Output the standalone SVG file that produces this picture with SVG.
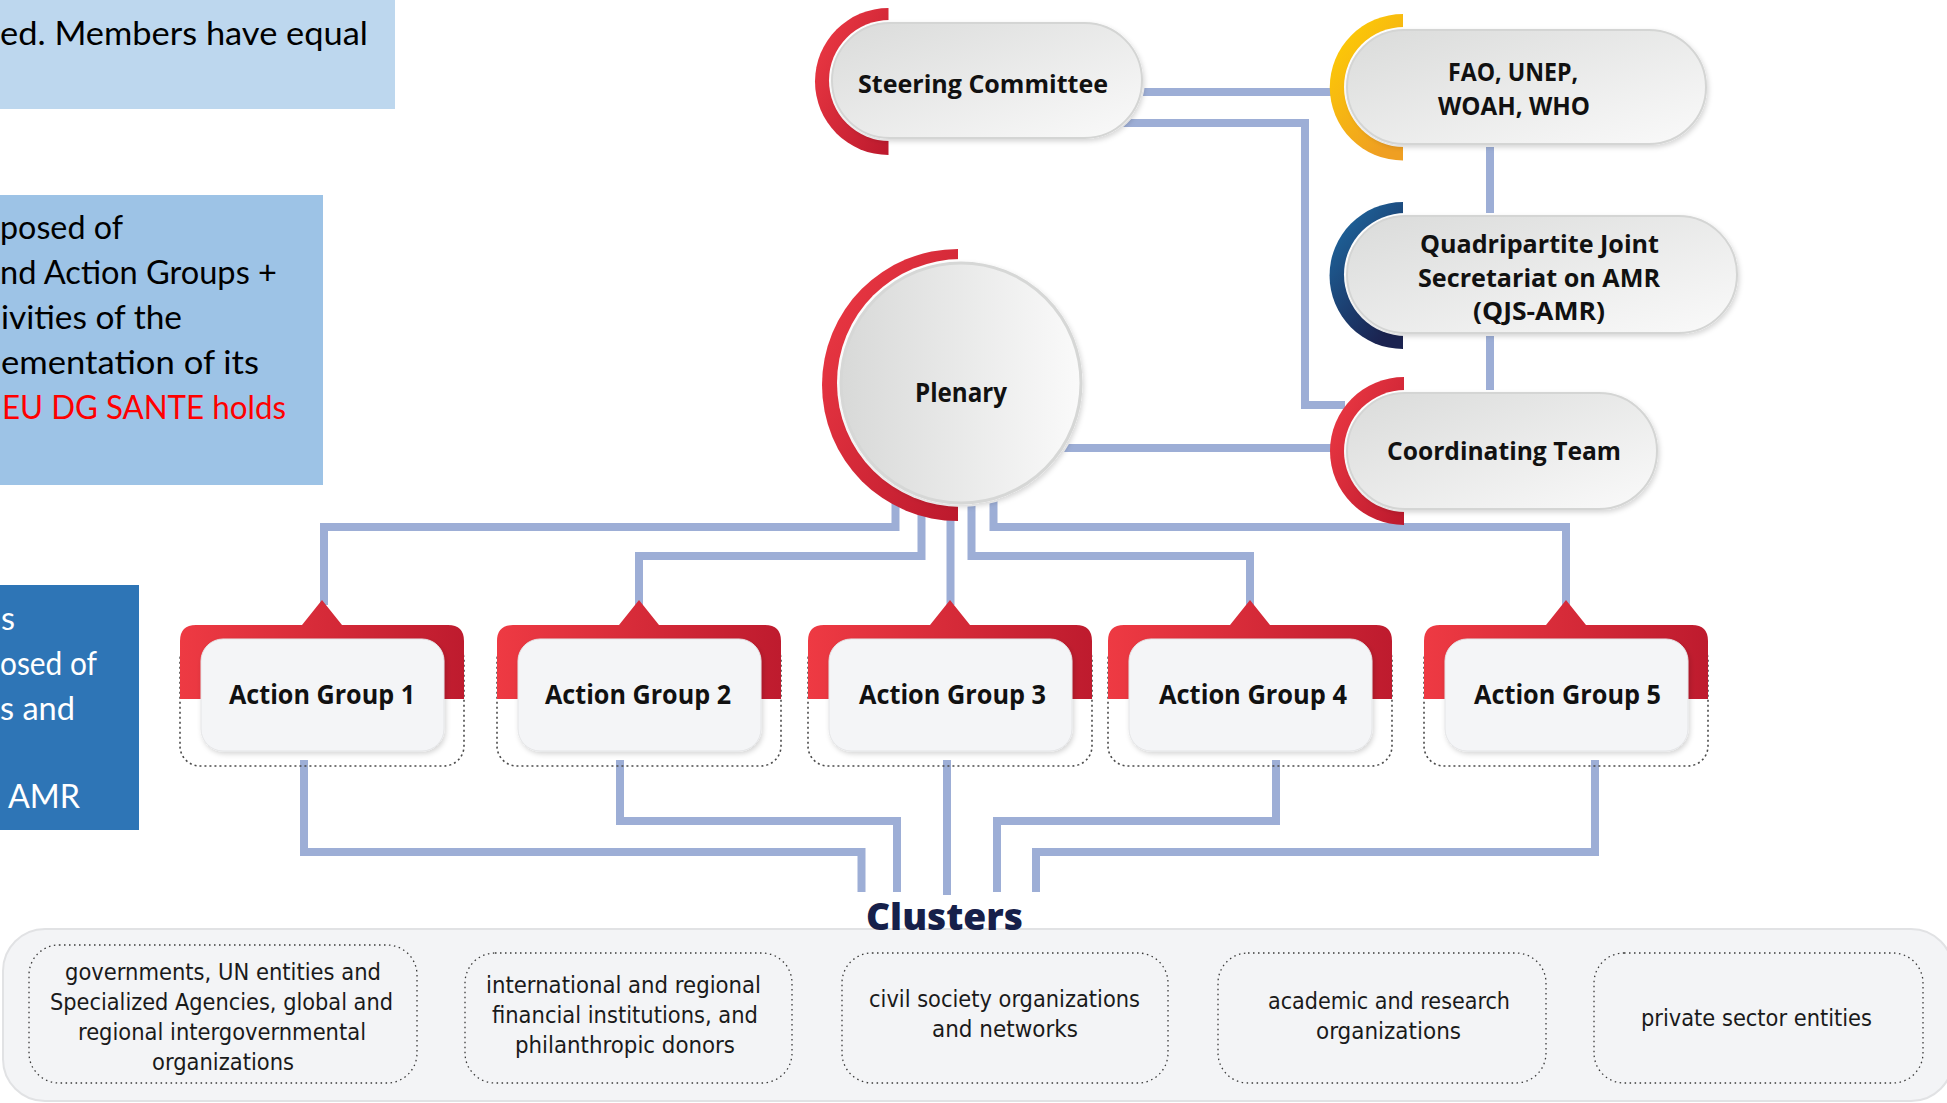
<svg xmlns="http://www.w3.org/2000/svg" width="1947" height="1103" viewBox="0 0 1947 1103">
  <style>
    .note { font-family: Lato, "Open Sans", "Liberation Sans", sans-serif; font-size: 33px; }
    .conn { fill: none; stroke: #9DAED6; stroke-width: 8; stroke-linejoin: miter; }
    .halo { fill: #FFFFFF; }
    .pill { fill: url(#gPill); stroke: #D4D5D4; stroke-width: 2; filter: url(#sh); }
    .lbl { font-family: "Open Sans", "Noto Sans", "Liberation Sans", sans-serif; font-weight: 700; font-size: 25px; fill: #111111; }
    .aglbl { font-family: "Open Sans", "Noto Sans", "Liberation Sans", sans-serif; font-weight: 700; font-size: 26px; fill: #111111; }
    .agred { fill: url(#gAgRed); }
    .agdot { fill: none; stroke: #4A4A4A; stroke-width: 1.6; stroke-dasharray: 2 3; }
    .aginner { fill: #F4F5F7; stroke: #E4E5E7; stroke-width: 1; filter: url(#sh); }
    .cldot { fill: none; stroke: #3A3A3A; stroke-width: 1.3; stroke-dasharray: 1.5 3.5; }
    .cltxt { font-family: "Liberation Sans Narrow", "DejaVu Sans Condensed", "Liberation Sans", sans-serif; font-size: 23px; fill: #1A1A1A; }
  </style>
  <defs>
    <linearGradient id="gRed" x1="0" y1="0" x2="1" y2="1">
      <stop offset="0" stop-color="#EF3B45"/>
      <stop offset="1" stop-color="#BC192D"/>
    </linearGradient>
    <linearGradient id="gYellow" x1="0" y1="0" x2="0.6" y2="1">
      <stop offset="0" stop-color="#FFD200"/>
      <stop offset="1" stop-color="#EF9F22"/>
    </linearGradient>
    <linearGradient id="gBlue" x1="0" y1="0" x2="0.6" y2="1">
      <stop offset="0" stop-color="#1E6FA8"/>
      <stop offset="1" stop-color="#1B2350"/>
    </linearGradient>
    <linearGradient id="gPill" x1="0" y1="0" x2="1" y2="1">
      <stop offset="0" stop-color="#DADBDA"/>
      <stop offset="1" stop-color="#FAFAFA"/>
    </linearGradient>
    <linearGradient id="gPlen" x1="0" y1="0" x2="1" y2="0">
      <stop offset="0" stop-color="#D8D9D8"/>
      <stop offset="1" stop-color="#FAFAFA"/>
    </linearGradient>
    <linearGradient id="gAgRed" x1="0" y1="0" x2="1" y2="0">
      <stop offset="0" stop-color="#EE3A43"/>
      <stop offset="1" stop-color="#BE1B2E"/>
    </linearGradient>
    <filter id="sh" x="-10%" y="-10%" width="125%" height="130%">
      <feDropShadow dx="1.5" dy="2.5" stdDeviation="2.5" flood-color="#000000" flood-opacity="0.16"/>
    </filter>
  </defs>

  <rect width="1947" height="1103" fill="#FFFFFF"/>

  <!-- left slide notes (cut off at the slide edge) -->
  <g id="notes">
    <rect x="0" y="0" width="395" height="109" fill="#BDD7EE"/>
    <text class="note" x="0" y="45" textLength="368" lengthAdjust="spacingAndGlyphs" fill="#000">ed. Members have equal</text>

    <rect x="0" y="195" width="323" height="290" fill="#9DC3E6"/>
    <text class="note" x="0" y="239" textLength="123" lengthAdjust="spacingAndGlyphs" fill="#000">posed of</text>
    <text class="note" x="0" y="284" textLength="277" lengthAdjust="spacingAndGlyphs" fill="#000">nd Action Groups +</text>
    <text class="note" x="1" y="329" textLength="181" lengthAdjust="spacingAndGlyphs" fill="#000">ivities of the</text>
    <text class="note" x="1" y="374" textLength="258" lengthAdjust="spacingAndGlyphs" fill="#000">ementation of its</text>
    <text class="note" x="2" y="419" textLength="284" lengthAdjust="spacingAndGlyphs" fill="#FF0000">EU DG SANTE holds</text>

    <rect x="0" y="585" width="139" height="245" fill="#2E75B6"/>
    <text class="note" x="1" y="630" textLength="14" lengthAdjust="spacingAndGlyphs" fill="#FFF">s</text>
    <text class="note" x="0" y="675" textLength="97" lengthAdjust="spacingAndGlyphs" fill="#FFF">osed of</text>
    <text class="note" x="0" y="720" textLength="75" lengthAdjust="spacingAndGlyphs" fill="#FFF">s and</text>
    <text class="note" x="8" y="808" textLength="72" lengthAdjust="spacingAndGlyphs" fill="#FFF">AMR</text>
  </g>

  <!-- cluster panel -->
  <g id="clusters-panel">
    <rect x="3" y="929" width="1950" height="172" rx="42" fill="#F3F4F6" stroke="#E1E2E4" stroke-width="2"/>
  </g>

  <!-- connectors -->
  <g id="connectors">
    <path class="conn" d="M1100 92 H1340"/>
    <path class="conn" d="M1100 123 H1305 V405 H1345"/>
    <path class="conn" d="M1490 135 V400"/>
    <path class="conn" d="M1060 448 H1345"/>
    <path class="conn" d="M895.5 480 V527 H324 V605"/>
    <path class="conn" d="M921.5 480 V556 H639 V605"/>
    <path class="conn" d="M950.5 480 V605"/>
    <path class="conn" d="M971.5 480 V556 H1250 V605"/>
    <path class="conn" d="M993.5 480 V527 H1566 V605"/>
    <path class="conn" d="M304 760 V852 H861.5 V892"/>
    <path class="conn" d="M620 760 V821 H897 V892"/>
    <path class="conn" d="M947 760 V895"/>
    <path class="conn" d="M1276 760 V821 H997 V892"/>
    <path class="conn" d="M1595 760 V852 H1036 V892"/>
  </g>

  <!-- Steering Committee -->
  <g id="node-steering">
    <path fill="url(#gRed)" d="M888.5 8 A73.5 73.5 0 0 0 888.5 155 Z"/>
    <rect class="halo" x="829" y="20" width="316" height="121" rx="60.5"/>
    <rect class="pill" x="832" y="23" width="310" height="115" rx="57.5"/>
    <text class="lbl" x="858" y="93" textLength="250" lengthAdjust="spacingAndGlyphs">Steering Committee</text>
  </g>

  <!-- FAO, UNEP, WOAH, WHO -->
  <g id="node-quadripartite">
    <path fill="url(#gYellow)" d="M1403 14 A73.2 73.2 0 0 0 1403 160.5 Z"/>
    <rect class="halo" x="1344" y="27" width="365" height="120" rx="60"/>
    <rect class="pill" x="1347" y="30" width="359" height="114" rx="57"/>
    <text class="lbl" x="1448" y="81" textLength="130" lengthAdjust="spacingAndGlyphs">FAO, UNEP,</text>
    <text class="lbl" x="1438" y="115" textLength="152" lengthAdjust="spacingAndGlyphs">WOAH, WHO</text>
  </g>

  <!-- QJS-AMR -->
  <g id="node-qjs">
    <path fill="url(#gBlue)" d="M1403 202 A73.5 73.5 0 0 0 1403 349 Z"/>
    <rect class="halo" x="1344" y="213" width="396" height="123" rx="61.5"/>
    <rect class="pill" x="1347" y="216" width="390" height="117" rx="58.5"/>
    <text class="lbl" x="1420" y="253" textLength="239" lengthAdjust="spacingAndGlyphs">Quadripartite Joint</text>
    <text class="lbl" x="1418" y="287" textLength="242" lengthAdjust="spacingAndGlyphs">Secretariat on AMR</text>
    <text class="lbl" x="1473" y="320" textLength="132" lengthAdjust="spacingAndGlyphs">(QJS-AMR)</text>
  </g>

  <!-- Coordinating Team -->
  <g id="node-coordinating">
    <path fill="url(#gRed)" d="M1404 377 A74 74 0 0 0 1404 525 Z"/>
    <rect class="halo" x="1344" y="390" width="316" height="122" rx="61"/>
    <rect class="pill" x="1347" y="393" width="310" height="116" rx="58"/>
    <text class="lbl" x="1387" y="460" textLength="234" lengthAdjust="spacingAndGlyphs">Coordinating Team</text>
  </g>

  <!-- Plenary -->
  <g id="node-plenary">
    <path fill="url(#gRed)" d="M958 249 A136 136 0 0 0 958 521 Z"/>
    <circle class="halo" cx="961" cy="383" r="124"/>
    <circle cx="961" cy="383" r="120" fill="url(#gPlen)" stroke="#D6D7D6" stroke-width="3" filter="url(#sh)"/>
    <text class="lbl" x="915" y="402" textLength="92" lengthAdjust="spacingAndGlyphs" style="font-size:27px">Plenary</text>
  </g>

  <!-- Action Groups -->
  <g id="node-ag1">
    <rect class="agdot" x="180" y="640" width="284" height="126" rx="20"/>
    <path class="agred" d="M180 699 V641 Q180 625 196 625 H302 L322 600 L342 625 H448 Q464 625 464 641 V699 Z"/>
    <rect class="aginner" x="201" y="639" width="243" height="112" rx="22"/>
    <text class="aglbl" x="229" y="704" textLength="186" lengthAdjust="spacingAndGlyphs">Action Group 1</text>
  </g>
  <g id="node-ag2">
    <rect class="agdot" x="497" y="640" width="284" height="126" rx="20"/>
    <path class="agred" d="M497 699 V641 Q497 625 513 625 H619 L639 600 L659 625 H765 Q781 625 781 641 V699 Z"/>
    <rect class="aginner" x="518" y="639" width="243" height="112" rx="22"/>
    <text class="aglbl" x="545" y="704" textLength="186" lengthAdjust="spacingAndGlyphs">Action Group 2</text>
  </g>
  <g id="node-ag3">
    <rect class="agdot" x="808" y="640" width="284" height="126" rx="20"/>
    <path class="agred" d="M808 699 V641 Q808 625 824 625 H930 L950 600 L970 625 H1076 Q1092 625 1092 641 V699 Z"/>
    <rect class="aginner" x="829" y="639" width="243" height="112" rx="22"/>
    <text class="aglbl" x="859" y="704" textLength="187" lengthAdjust="spacingAndGlyphs">Action Group 3</text>
  </g>
  <g id="node-ag4">
    <rect class="agdot" x="1108" y="640" width="284" height="126" rx="20"/>
    <path class="agred" d="M1108 699 V641 Q1108 625 1124 625 H1230 L1250 600 L1270 625 H1376 Q1392 625 1392 641 V699 Z"/>
    <rect class="aginner" x="1129" y="639" width="243" height="112" rx="22"/>
    <text class="aglbl" x="1159" y="704" textLength="188" lengthAdjust="spacingAndGlyphs">Action Group 4</text>
  </g>
  <g id="node-ag5">
    <rect class="agdot" x="1424" y="640" width="284" height="126" rx="20"/>
    <path class="agred" d="M1424 699 V641 Q1424 625 1440 625 H1546 L1566 600 L1586 625 H1692 Q1708 625 1708 641 V699 Z"/>
    <rect class="aginner" x="1445" y="639" width="243" height="112" rx="22"/>
    <text class="aglbl" x="1474" y="704" textLength="187" lengthAdjust="spacingAndGlyphs">Action Group 5</text>
  </g>

  <!-- Clusters -->
  <g id="node-clusters-title">
    <text x="866" y="930" textLength="157" lengthAdjust="spacingAndGlyphs" style="font-family:'Open Sans','Noto Sans','Liberation Sans',sans-serif;font-weight:800;font-size:37px" fill="#16204A">Clusters</text>
  </g>
  <g id="node-cluster1">
    <rect class="cldot" x="29" y="945" width="388" height="138" rx="30"/>
    <text class="cltxt" x="65" y="980" textLength="316" lengthAdjust="spacingAndGlyphs">governments, UN entities and</text>
    <text class="cltxt" x="50" y="1010" textLength="343" lengthAdjust="spacingAndGlyphs">Specialized Agencies, global and</text>
    <text class="cltxt" x="78" y="1040" textLength="288" lengthAdjust="spacingAndGlyphs">regional intergovernmental</text>
    <text class="cltxt" x="152" y="1070" textLength="142" lengthAdjust="spacingAndGlyphs">organizations</text>
  </g>
  <g id="node-cluster2">
    <rect class="cldot" x="465" y="953" width="327" height="130" rx="30"/>
    <text class="cltxt" x="486" y="993" textLength="275" lengthAdjust="spacingAndGlyphs">international and regional</text>
    <text class="cltxt" x="492" y="1023" textLength="266" lengthAdjust="spacingAndGlyphs">financial institutions, and</text>
    <text class="cltxt" x="515" y="1053" textLength="220" lengthAdjust="spacingAndGlyphs">philanthropic donors</text>
  </g>
  <g id="node-cluster3">
    <rect class="cldot" x="842" y="953" width="326" height="130" rx="30"/>
    <text class="cltxt" x="869" y="1007" textLength="271" lengthAdjust="spacingAndGlyphs">civil society organizations</text>
    <text class="cltxt" x="932" y="1037" textLength="146" lengthAdjust="spacingAndGlyphs">and networks</text>
  </g>
  <g id="node-cluster4">
    <rect class="cldot" x="1218" y="953" width="328" height="130" rx="30"/>
    <text class="cltxt" x="1268" y="1009" textLength="242" lengthAdjust="spacingAndGlyphs">academic and research</text>
    <text class="cltxt" x="1316" y="1039" textLength="145" lengthAdjust="spacingAndGlyphs">organizations</text>
  </g>
  <g id="node-cluster5">
    <rect class="cldot" x="1594" y="953" width="329" height="130" rx="30"/>
    <text class="cltxt" x="1641" y="1026" textLength="231" lengthAdjust="spacingAndGlyphs">private sector entities</text>
  </g>
</svg>
